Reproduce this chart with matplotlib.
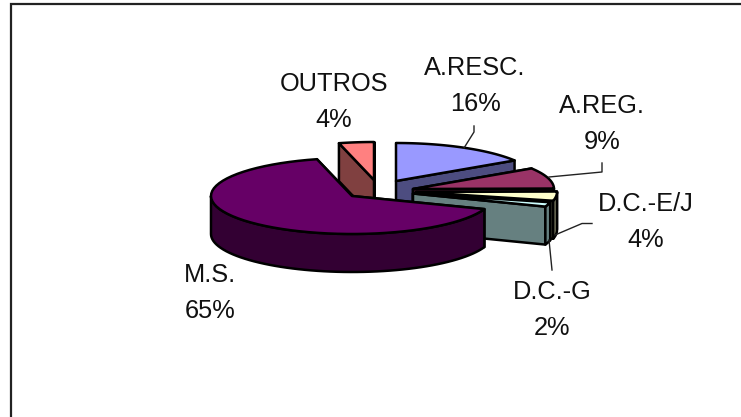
import numpy as np
import matplotlib
matplotlib.use('Agg')
import matplotlib.pyplot as plt
from matplotlib.patches import Polygon

plt.rcParams['font.family'] = ['Liberation Sans', 'DejaVu Sans']

# values, clockwise from 12 o'clock
categories = ['A.RESC.', 'A.REG.', 'D.C.-E/J', 'D.C.-G', 'M.S.', 'OUTROS']
values = [15.9, 8.9, 3.9, 1.9, 65.4, 4.0]

top_colors = ['#9999FF', '#993366', '#FFFFCC', '#CCFFFF', '#660066', '#FF8080']
side_colors = ['#4D4D80', '#4D1A33', '#808066', '#668080', '#330033', '#804040']

# layout, in pixels of the 741x417 picture
center = (352, 196)
rx, ry, depth = 141, 38, 38
offsets = [(44, -15), (61, -7), (64, -4), (61, -2.5), (0, 0), (22, -16)]
draw_order = [5, 0, 1, 2, 3, 4]
label_pos = [(475, 86), (602, 124), (646, 222), (552, 310), (210, 293), (334, 102)]
leaders = [
    [(464, 148), (474, 132), (474, 126)],
    [(549, 177), (602, 172), (602, 163)],
    [(555, 235), (582, 223.5), (592, 223.5)],
    [(549, 240), (552, 270)],
]

LW = 1.8


def arc(cx, cy, a0, a1, n=60):
    # angles in degrees clockwise from top, y axis points down
    t = np.radians(np.linspace(a0, a1, n))
    return np.column_stack([cx + rx * np.sin(t), cy - ry * np.cos(t)])


def cut_face(ax, cx, cy, a, color, z):
    p = arc(cx, cy, a, a, 1)[0]
    pts = [(cx, cy), p, (p[0], p[1] + depth), (cx, cy + depth)]
    ax.add_patch(Polygon(pts, closed=True, fc=color, ec='black', lw=LW, zorder=z, joinstyle='round'))


def draw_slice(ax, i, a0, a1, z):
    cx = center[0] + offsets[i][0]
    cy = center[1] + offsets[i][1]
    cut_face(ax, cx, cy, a0, side_colors[i], z)
    cut_face(ax, cx, cy, a1, side_colors[i], z + 0.1)
    # outer rim, only the part that faces the viewer
    r0, r1 = max(a0, 90), min(a1, 270)
    if r1 > r0:
        edge = arc(cx, cy, r0, r1)
        rim = np.vstack([edge, (edge + [0, depth])[::-1]])
        ax.add_patch(Polygon(rim, closed=True, fc=side_colors[i], ec='black', lw=LW, zorder=z + 0.2, joinstyle='round'))
    top = np.vstack([[(cx, cy)], arc(cx, cy, a0, a1)])
    ax.add_patch(Polygon(top, closed=True, fc=top_colors[i], ec='black', lw=LW, zorder=z + 0.3, joinstyle='round'))


fig = plt.figure(figsize=(7.41, 4.17), dpi=100)
ax = fig.add_axes([0, 0, 1, 1])
ax.set_xlim(0, 741)
ax.set_ylim(417, 0)
ax.axis('off')

# chart frame, only left and top edges fall inside the crop
ax.plot([10.5, 10.5, 741], [417, 4, 4], color='#222222', lw=1.6, solid_joinstyle='miter')

# slice angles come from the values
edges = np.concatenate([[0], np.cumsum(values)]) / np.sum(values) * 360
for n, i in enumerate(draw_order):
    draw_slice(ax, i, edges[i], edges[i + 1], 2 + n)

for line in leaders:
    xs, ys = zip(*line)
    ax.plot(xs, ys, color='#222222', lw=1.0, zorder=20)

for name, v, (x, y) in zip(categories, values, label_pos):
    ax.text(x, y, f'{name}\n{v:.0f}%', ha='center', va='center', fontsize=18.3,
            linespacing=1.58, color='#111111', zorder=21)

fig.savefig('out.png', dpi=100)
